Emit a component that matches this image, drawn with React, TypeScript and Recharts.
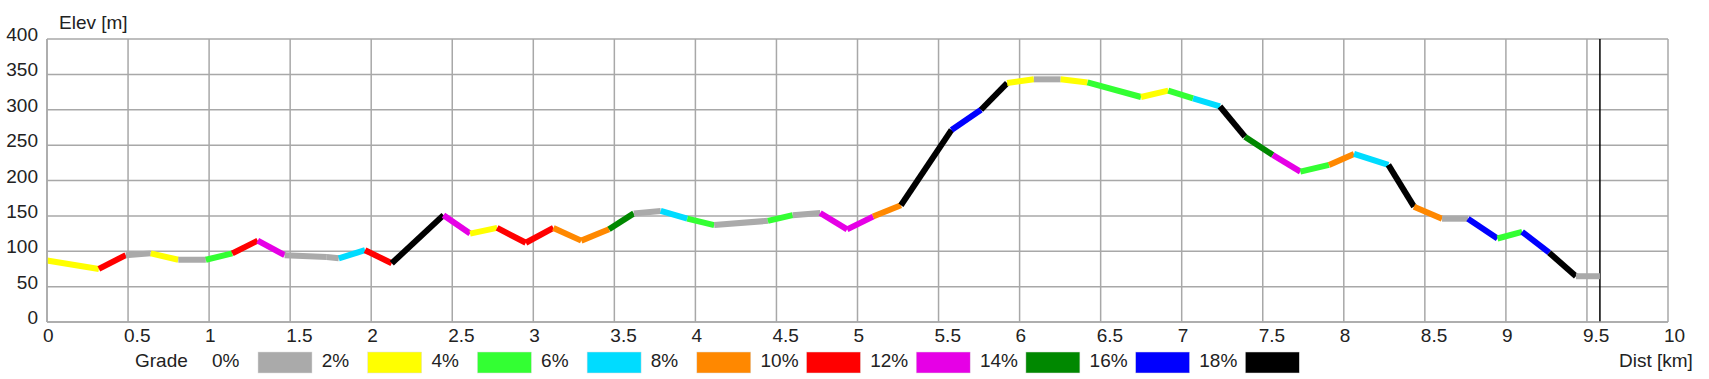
import { LineChart, Line, XAxis, YAxis, CartesianGrid, ReferenceLine } from 'recharts';

// track profile
const distKm = [
  0, 0.32, 0.486, 0.64, 0.81, 0.98, 1.143, 1.3, 1.466, 1.726, 1.8, 1.962, 2.127, 2.446,
  2.61, 2.777, 2.954, 3.124, 3.296, 3.467, 3.62, 3.786, 3.95, 4.116, 4.447, 4.6, 4.77,
  4.936, 5.096, 5.268, 5.58, 5.762, 5.923, 6.088, 6.253, 6.419, 6.749, 6.917, 7.07,
  7.236, 7.39, 7.562, 7.732, 7.909, 8.063, 8.275, 8.433, 8.606, 8.766, 8.948, 9.1,
  9.267, 9.432, 9.58,
];

const elevM = [
  87, 75, 94.5, 97, 88, 88, 97, 115, 94.5, 92, 90, 101.5, 83, 151,
  125, 133, 112, 133, 115, 131, 153.5, 157, 146, 137, 143, 151, 154,
  131, 149, 165, 271.5, 300, 337.7, 343, 343, 338.6, 318, 327, 316,
  304.6, 262, 236, 212.5, 222, 237.5, 222, 163, 146, 146, 118, 127.5,
  98, 64.7, 64.7,
];

// grade class of each segment (index into gradeColors)
const segmentGrade = [
  1, 5, 0, 1, 0, 2, 5, 6, 0, 0, 3, 5, 9, 6, 1, 5, 5, 4, 4, 7, 0, 3, 2, 0, 2, 0, 6,
  6, 4, 9, 8, 9, 1, 0, 1, 2, 1, 2, 3, 9, 7, 6, 2, 4, 3, 9, 4, 0, 8, 2, 8, 9, 0,
];

const gradeLabels = ['0%', '2%', '4%', '6%', '8%', '10%', '12%', '14%', '16%', '18%'];
const gradeColors = ['#aaaaaa', '#ffff00', '#33ff33', '#00dcff', '#ff8800', '#ff0000', '#e600e6', '#008800', '#0000ff', '#000000'];

const xTicks = [0, 0.5, 1, 1.5, 2, 2.5, 3, 3.5, 4, 4.5, 5, 5.5, 6, 6.5, 7, 7.5, 8, 8.5, 9, 9.5, 10];
const yTicks = [0, 50, 100, 150, 200, 250, 300, 350, 400];

const trackEnd = distKm[distKm.length - 1];

const FONT = '"Liberation Sans", Arial, sans-serif';
const TEXT = '#222';
const GRID = '#a8a8a8';

const segments = segmentGrade.map((g, i) => ({
  color: gradeColors[g],
  data: [
    { dist: distKm[i], elev: elevM[i] },
    { dist: distKm[i + 1], elev: elevM[i + 1] },
  ],
}));

function YTick({ x, y, payload }: any) {
  return (
    <text x={x - 9} y={y + 2} textAnchor="end" fontFamily={FONT} fontSize={19} fill={TEXT}>
      {payload.value}
    </text>
  );
}

function XTick({ x, y, payload }: any) {
  return (
    <text x={x - 4} y={y + 20} textAnchor="start" fontFamily={FONT} fontSize={19} fill={TEXT}>
      {payload.value}
    </text>
  );
}

export default function App() {
  return (
    <div style={{ position: 'absolute', left: 0, top: 0, width: 1709, height: 379, background: '#fff' }}>
      <LineChart width={1709} height={379} margin={{ top: 39, right: 41, bottom: 0, left: 0 }}>
        <CartesianGrid stroke={GRID} strokeWidth={1.5} />
        <XAxis
          type="number"
          dataKey="dist"
          domain={[0, 10]}
          ticks={xTicks}
          height={57}
          tickSize={0}
          tickMargin={0}
          tickLine={false}
          axisLine={{ stroke: GRID, strokeWidth: 1.5 }}
          tick={<XTick />}
          interval={0}
        />
        <YAxis
          type="number"
          domain={[0, 400]}
          ticks={yTicks}
          width={47}
          tickSize={0}
          tickMargin={0}
          tickLine={false}
          axisLine={{ stroke: GRID, strokeWidth: 1.5 }}
          tick={<YTick />}
          interval={0}
        />
        <ReferenceLine x={trackEnd} stroke="#000" strokeWidth={1.5} />
        {segments.map((s, i) => (
          <Line
            key={i}
            data={s.data}
            dataKey="elev"
            type="linear"
            stroke={s.color}
            strokeWidth={6}
            dot={false}
            activeDot={false}
            isAnimationActive={false}
          />
        ))}
      </LineChart>

      {/* titles + grade legend */}
      <svg width={1709} height={379} style={{ position: 'absolute', left: 0, top: 0, pointerEvents: 'none' }}>
        <text x={59} y={29} fontFamily={FONT} fontSize={19} fill={TEXT}>Elev [m]</text>
        <text x={1619} y={367} fontFamily={FONT} fontSize={19} fill={TEXT}>Dist [km]</text>
        <text x={135} y={367} fontFamily={FONT} fontSize={19} fill={TEXT}>Grade</text>
        {gradeLabels.map((label, i) => {
          const bx = 258 + i * 109.7;
          return (
            <g key={label}>
              <text x={bx - 46} y={367} fontFamily={FONT} fontSize={19} fill={TEXT}>{label}</text>
              <rect x={bx} y={352} width={54} height={21} fill={gradeColors[i]} stroke="#ddd" strokeWidth={0.5} />
            </g>
          );
        })}
      </svg>
    </div>
  );
}
